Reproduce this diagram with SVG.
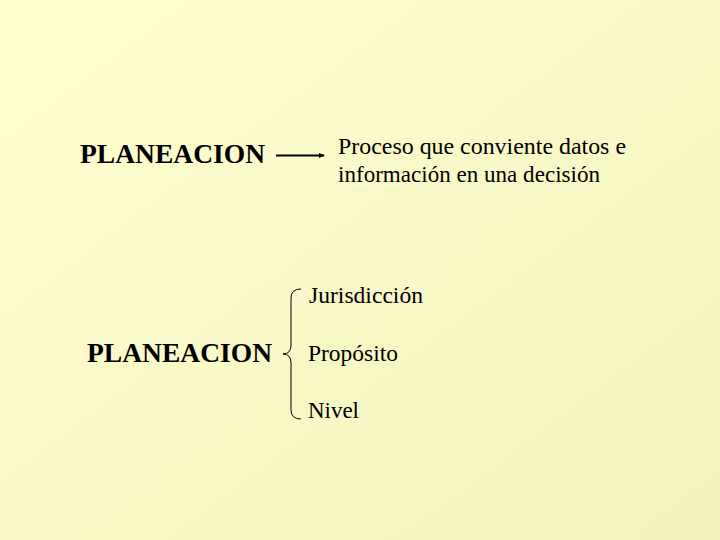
<svg xmlns="http://www.w3.org/2000/svg" width="720" height="540" viewBox="0 0 720 540">
<defs>
<linearGradient id="bg" x1="0" y1="0" x2="1" y2="1">
<stop offset="0" stop-color="#FFFFD0"/>
<stop offset="1" stop-color="#F3F1BF"/>
</linearGradient>
<marker id="ah" viewBox="0 0 6 6" refX="5" refY="3" markerWidth="6" markerHeight="6" markerUnits="userSpaceOnUse" orient="auto">
<path d="M0,0.5 L6,3 L0,5.5 Z" fill="#000"/>
</marker>
<style>
.t{font-family:"Liberation Serif",Tinos,"Times New Roman",Times,"Nimbus Roman","Noto Serif","DejaVu Serif",FreeSerif,serif;font-size:24px;fill:#000}
.b{font-family:"Liberation Serif",Tinos,"Times New Roman",Times,"Nimbus Roman","Noto Serif","DejaVu Serif",FreeSerif,serif;font-size:28px;font-weight:bold;fill:#000}
.c{fill:none;stroke:#000}
</style>
</defs>
<rect width="720" height="540" fill="url(#bg)"/>
<g id="planeacion1"><text class="b" x="80" y="163" textLength="185" lengthAdjust="spacingAndGlyphs">PLANEACION</text></g>
<g id="definicion">
<text class="t" x="338" y="154" textLength="288" lengthAdjust="spacingAndGlyphs">Proceso que conviente datos e</text>
<text class="t" x="338" y="182" textLength="262" lengthAdjust="spacingAndGlyphs">información en una decisión</text>
</g>
<g id="planeacion2"><text class="b" x="87" y="362" textLength="185" lengthAdjust="spacingAndGlyphs">PLANEACION</text></g>
<g id="jurisdiccion"><text class="t" x="309" y="303" textLength="114" lengthAdjust="spacingAndGlyphs">Jurisdicción</text></g>
<g id="proposito"><text class="t" x="308" y="361" textLength="90" lengthAdjust="spacingAndGlyphs">Propósito</text></g>
<g id="nivel"><text class="t" x="308" y="418" textLength="51" lengthAdjust="spacingAndGlyphs">Nivel</text></g>
<g id="connectors">
<line class="c" x1="276" y1="155.5" x2="324" y2="155.5" stroke-width="2" marker-end="url(#ah)"/>
<path class="c" stroke-width="1" d="M301,289 Q291,289 291,298 L291,345 Q291,354 283,354 Q291,354 291,363 L291,410 Q291,419 301,419"/>
</g>
</svg>
